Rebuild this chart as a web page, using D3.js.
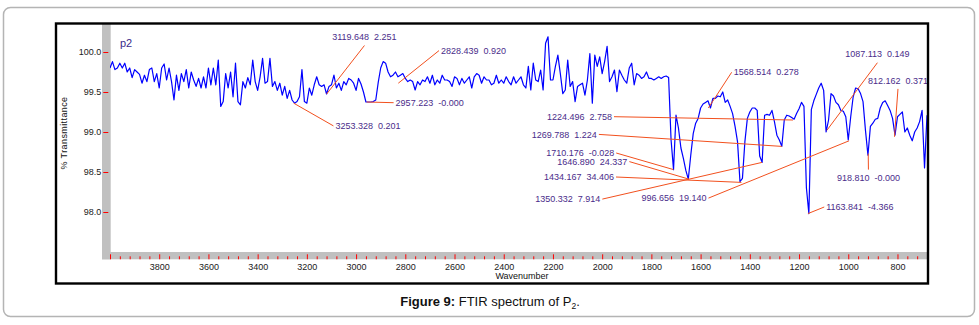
<!DOCTYPE html>
<html>
<head>
<meta charset="utf-8">
<script src="https://cdn.jsdelivr.net/npm/d3@7"></script>
<style>
  body { margin: 0; background: #fff; }
  text { font-family: "Liberation Sans", Arial, sans-serif; }
</style>
</head>
<body>
<div id="chart"></div>
<script>
// spectrum sampled every 10 cm-1 from 4000 down to 680
const wavenumbers = d3.range(4000, 679, -10);
const transmittance = [
  99.80, 99.88, 99.78, 99.80, 99.86, 99.80, 99.86, 99.75, 99.80, 99.68,
  99.78, 99.75, 99.72, 99.61, 99.71, 99.63, 99.78, 99.80, 99.63, 99.73,
  99.55, 99.80, 99.85, 99.65, 99.80, 99.63, 99.40, 99.71, 99.52, 99.73,
  99.63, 99.78, 99.55, 99.75, 99.65, 99.57, 99.67, 99.55, 99.69, 99.55,
  99.80, 99.59, 99.80, 99.59, 99.90, 99.32, 99.38, 99.73, 99.55, 99.75,
  99.44, 99.86, 99.38, 99.34, 99.63, 99.55, 99.68, 99.59, 99.90, 99.63,
  99.52, 99.69, 99.92, 99.61, 99.63, 99.92, 99.57, 99.63, 99.52, 99.61,
  99.46, 99.57, 99.42, 99.52, 99.40, 99.36, 99.38, 99.44, 99.78, 99.38,
  99.36, 99.55, 99.46, 99.59, 99.69, 99.59, 99.57, 99.59, 99.475, 99.57,
  99.59, 99.71, 99.55, 99.61, 99.52, 99.63, 99.59, 99.67, 99.65, 99.61,
  99.52, 99.67, 99.60, 99.50, 99.375, 99.375, 99.375, 99.38, 99.40, 99.62,
  99.80, 99.88, 99.86, 99.75, 99.69, 99.71, 99.75, 99.69, 99.71, 99.73,
  99.67, 99.63, 99.65, 99.63, 99.525, 99.63, 99.59, 99.65, 99.63, 99.69,
  99.61, 99.71, 99.59, 99.65, 99.61, 99.71, 99.65, 99.65, 99.63, 99.57,
  99.69, 99.67, 99.59, 99.67, 99.61, 99.65, 99.69, 99.55, 99.69, 99.73,
  99.71, 99.61, 99.69, 99.65, 99.65, 99.59, 99.61, 99.71, 99.61, 99.65,
  99.61, 99.69, 99.63, 99.59, 99.69, 99.61, 99.65, 99.69, 99.59, 99.55,
  99.82, 99.525, 99.86, 99.65, 99.63, 99.775, 99.525, 100.11, 100.19, 99.65,
  99.65, 99.82, 99.96, 99.73, 99.48, 99.525, 99.90, 99.57, 99.63, 99.38,
  99.57, 99.59, 99.61, 99.46, 99.65, 99.98, 99.36, 99.96, 99.82, 99.94,
  99.73, 99.88, 100.07, 99.63, 99.69, 99.775, 99.505, 99.775, 99.71, 99.65,
  99.61, 99.80, 99.86, 99.59, 99.73, 99.71, 99.67, 99.69, 99.75, 99.67,
  99.67, 99.65, 99.67, 99.69, 99.67, 99.69, 99.70, 99.68, 98.90, 98.53,
  99.21, 99.05, 98.80, 98.67, 98.52, 98.41, 98.71, 98.98, 99.11, 99.17,
  99.30, 99.35, 99.37, 99.39, 99.30, 99.42, 99.42, 99.45, 99.44, 99.50,
  99.37, 99.40, 99.32, 99.23, 99.07, 98.88, 98.38, 98.42, 98.88, 99.17,
  99.25, 99.30, 99.30, 99.27, 98.70, 98.62, 99.21, 99.22, 99.21, 99.27,
  99.13, 98.96, 98.90, 98.82, 99.15, 99.21, 99.20, 99.18, 99.16, 99.23,
  99.29, 99.37, 99.32, 98.30, 97.98, 99.28, 99.39, 99.47, 99.55, 99.61,
  99.52, 99.00, 99.15, 99.48, 99.45, 99.37, 99.34, 99.27, 99.26, 99.19,
  98.90, 99.19, 99.44, 99.55, 99.54, 99.48, 99.38, 99.02, 98.71, 99.07,
  99.11, 99.16, 99.17, 99.30, 99.37, 99.39, 99.33, 99.27, 99.17, 98.96,
  99.19, 99.22, 99.25, 99.00, 99.05, 98.96, 98.89, 99.00, 99.05, 99.13,
  99.27, 98.55, 99.21
];

// peak picks: position, %T of the picked point, value printed next to it
const peakWn = [3253.328, 3119.648, 2957.223, 2828.439, 1710.176, 1646.890, 1568.514, 1434.167,
                1350.332, 1269.788, 1224.496, 1163.841, 1087.113, 996.656, 918.810, 812.162];
const peakT = [99.36, 99.475, 99.375, 99.61, 98.53, 98.41, 99.30, 98.37,
               98.62, 98.82, 99.15, 97.98, 99.02, 98.89, 98.73, 98.94];
const peakValue = ["0.201", "2.251", "-0.000", "0.920", "-0.028", "24.337", "0.278", "34.406",
                   "7.914", "1.224", "2.758", "-4.366", "0.149", "19.140", "-0.000", "0.371"];

// where each pick label sits relative to its point (px) and on which side
const peakLabelLayout = [
  [41.7, 22.7, "r"], [37.8, -57, "t"], [29, 0.7, "r"], [42.7, -32.6, "r"],
  [-59.3, -16.6, "l"], [-61.7, -17.6, "l"], [25.3, -35.7, "r"], [-127.4, -5.4, "l"],
  [-161.7, 36.7, "l"], [-185, -12, "l"], [-181, -3.3, "l"], [18.3, -6.6, "r"],
  [50.6, -76.2, "t"], [-142.6, 57.3, "l"], [0.2, 24, "b"], [3.5, -56.4, "t"]
];

const xTickLabels = [3800, 3600, 3400, 3200, 3000, 2800, 2600, 2400, 2200, 2000, 1800, 1600, 1400, 1200, 1000, 800];
const yTickValues = [100, 99.5, 99, 98.5, 98];
const yTickLabels = ["100.0", "99.5", "99.0", "98.5", "98.0"];

const W = 979, H = 325;
const plot = { left: 110, right: 927, top: 23, bottom: 252 };

const svg = d3.select("#chart").append("svg")
    .attr("width", W)
    .attr("height", H);

svg.append("rect").attr("width", W).attr("height", H).attr("fill", "#fff");

// outer rounded box
svg.append("rect")
    .attr("x", 3.5).attr("y", 7.5)
    .attr("width", 971).attr("height", 309)
    .attr("rx", 7)
    .attr("fill", "none")
    .attr("stroke", "#b4b4b4")
    .attr("stroke-width", 1.5);

const x = d3.scaleLinear().domain([4000, 680]).range([plot.left, plot.right]);
const y = d3.scaleLinear().domain([97.5, 100.3625]).range([plot.bottom, plot.top]);

// grey axis bands
svg.append("rect")
    .attr("x", 102).attr("y", plot.top)
    .attr("width", plot.left - 102 + 0.7).attr("height", 259.3 - plot.top)
    .attr("fill", "#c0c0c0");
svg.append("rect")
    .attr("x", 102).attr("y", plot.bottom)
    .attr("width", plot.right - 102 + 1).attr("height", 7.3)
    .attr("fill", "#c0c0c0");

svg.append("defs").append("clipPath")
    .attr("id", "plot-clip")
    .append("rect")
    .attr("x", plot.left).attr("y", plot.top)
    .attr("width", plot.right - plot.left).attr("height", plot.bottom - plot.top);

const g = svg.append("g").attr("clip-path", "url(#plot-clip)");

const spectrum = wavenumbers.map((wn, i) => ({ wn: wn, t: transmittance[i] }));

g.append("path")
    .datum(spectrum)
    .attr("fill", "none")
    .attr("stroke", "#0000ff")
    .attr("stroke-width", 1.2)
    .attr("stroke-linejoin", "round")
    .attr("d", d3.line().x(d => x(d.wn)).y(d => y(d.t)));

// peak pick labels + leader lines
const picks = peakWn.map((wn, i) => ({
    wn: wn, t: peakT[i], value: peakValue[i],
    dx: peakLabelLayout[i][0], dy: peakLabelLayout[i][1], side: peakLabelLayout[i][2]
}));

picks.forEach(p => {
    const px = x(p.wn), py = y(p.t);
    let lx = p.dx, ly = p.dy, anchor = "middle";
    if (p.side === "r") { lx = p.dx - 2; anchor = "start"; }
    if (p.side === "l") { lx = p.dx + 2; anchor = "end"; }
    if (p.side === "t") { ly = p.dy + 8.5; }
    if (p.side === "b") { ly = p.dy - 8; }

    g.append("line")
        .attr("x1", px).attr("y1", py)
        .attr("x2", px + lx).attr("y2", py + ly)
        .attr("stroke", "#f2501e")
        .attr("stroke-width", 1);

    g.append("text")
        .attr("x", px + p.dx).attr("y", py + p.dy)
        .attr("dy", "0.35em")
        .attr("text-anchor", anchor)
        .attr("font-size", 9)
        .attr("fill", "#4a2c8a")
        .text(p.wn.toFixed(3) + "\u00a0\u00a0" + p.value);
});

g.append("text")
    .attr("x", 120).attr("y", 47)
    .attr("font-size", 11)
    .attr("fill", "#3a2a8a")
    .text("p2");

// x axis: long ticks every 200, short every 40, drawn up from the band bottom
const xMajor = [4000].concat(xTickLabels);
const xMinor = d3.range(3960, 680, -40).filter(d => d % 200 !== 0);

const xAxisMinor = svg.append("g")
    .attr("transform", "translate(0,259.3)")
    .call(d3.axisBottom(x).tickValues(xMinor).tickSize(-3).tickFormat(""));
xAxisMinor.select(".domain").remove();
xAxisMinor.selectAll("line").attr("stroke", "#ff0000");

const xAxis = svg.append("g")
    .attr("transform", "translate(0,259.3)")
    .call(d3.axisBottom(x).tickValues(xMajor).tickSize(-5).tickPadding(4)
        .tickFormat(d => xTickLabels.includes(d) ? d : ""));
xAxis.select(".domain").remove();
xAxis.selectAll("line").attr("stroke", "#ff0000");
xAxis.selectAll("text")
    .attr("font-family", "Liberation Sans, Arial, sans-serif")
    .attr("font-size", 9)
    .attr("fill", "#1a1a1a");

const yAxis = svg.append("g")
    .attr("transform", "translate(103.3,0)")
    .call(d3.axisLeft(y).tickValues(yTickValues).tickSize(-5).tickPadding(2)
        .tickFormat((d, i) => yTickLabels[i]));
yAxis.select(".domain").remove();
yAxis.selectAll("line").attr("stroke", "#ff0000");
yAxis.selectAll("text")
    .attr("font-family", "Liberation Sans, Arial, sans-serif")
    .attr("font-size", 9)
    .attr("fill", "#1a1a1a");

svg.append("text")
    .attr("transform", "translate(66.5,133) rotate(-90)")
    .attr("text-anchor", "middle")
    .attr("font-size", 9)
    .attr("letter-spacing", 0.4)
    .attr("fill", "#111")
    .text("% Transmittance");

svg.append("text")
    .attr("x", 522).attr("y", 279)
    .attr("text-anchor", "middle")
    .attr("font-size", 9)
    .attr("fill", "#111")
    .text("Wavenumber");

// black frame around the whole plot
svg.append("rect")
    .attr("x", 56).attr("y", 23.5)
    .attr("width", 872).attr("height", 260)
    .attr("fill", "none")
    .attr("stroke", "#000")
    .attr("stroke-width", 2.4);

// caption
const cap = svg.append("text")
    .attr("x", 490).attr("y", 306)
    .attr("text-anchor", "middle")
    .attr("font-family", "Liberation Sans Narrow, Arial Narrow, Liberation Sans, sans-serif")
    .attr("font-size", 13)
    .attr("fill", "#111");
cap.append("tspan").attr("font-weight", "bold").text("Figure 9:");
cap.append("tspan").text(" FTIR spectrum of P");
cap.append("tspan").attr("font-size", 8.5).attr("dy", 3).text("2");
cap.append("tspan").attr("dy", -3).text(".");
</script>
</body>
</html>
